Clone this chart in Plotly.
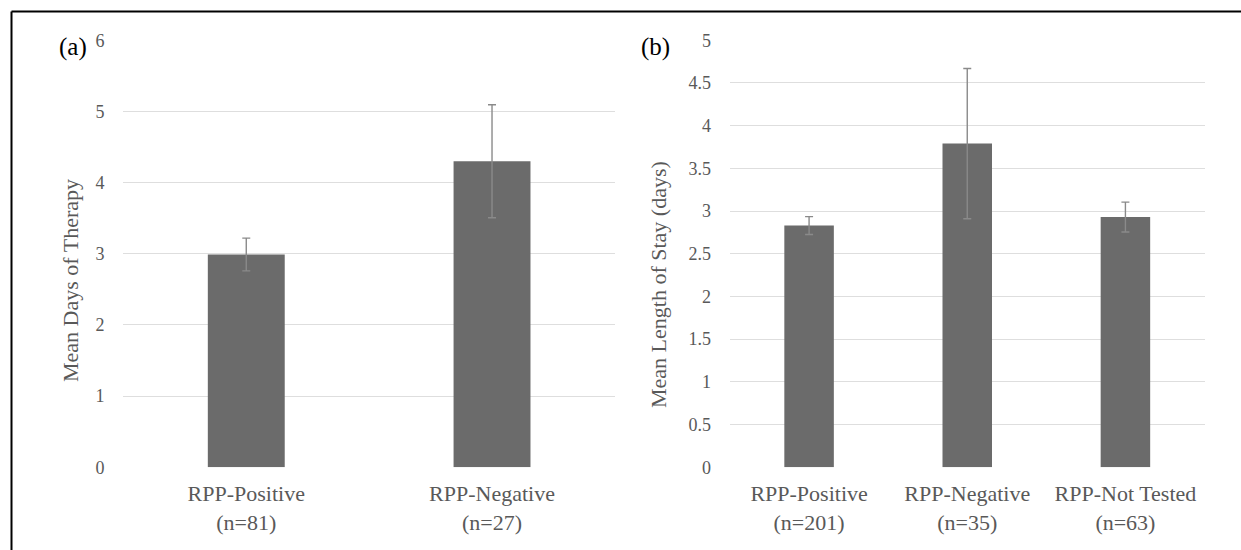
import plotly.graph_objects as go

# ---- data ----
cats_a = ["RPP-Positive", "RPP-Negative"]
n_a = [81, 27]
mean_a = [2.99, 4.30]
err_a = [0.23, 0.795]

cats_b = ["RPP-Positive", "RPP-Negative", "RPP-Not Tested"]
n_b = [201, 35, 63]
mean_b = [2.83, 3.79, 2.93]
err_b = [0.105, 0.88, 0.175]

yticks_a = [0, 1, 2, 3, 4, 5, 6]
yticks_b = [0, 0.5, 1, 1.5, 2, 2.5, 3, 3.5, 4, 4.5, 5]

W, H = 1241, 550
FONT = "Liberation Serif"
GRAY = "#595959"
BAR = "#6b6b6b"
ERR = "#8a8a8a"

fig = go.Figure()
fig.add_trace(go.Bar(
    x=cats_a, y=mean_a, xaxis="x", yaxis="y",
    marker=dict(color=BAR, line=dict(width=0)),
    error_y=dict(type="data", array=err_a, visible=True, color=ERR, thickness=1.4, width=4),
    showlegend=False,
))
fig.add_trace(go.Bar(
    x=cats_b, y=mean_b, xaxis="x2", yaxis="y2",
    marker=dict(color=BAR, line=dict(width=0)),
    error_y=dict(type="data", array=err_b, visible=True, color=ERR, thickness=1.4, width=4),
    showlegend=False,
))

y0 = (H - 467.2) / H
y1 = (H - 40.3) / H

xcommon = dict(showgrid=False, zeroline=False, showline=False, ticks="", automargin=False,
               tickfont=dict(family=FONT, size=22, color=GRAY), ticklabelstandoff=11)
ycommon = dict(showgrid=True, gridcolor="#dedede", gridwidth=1.3, zeroline=False,
               showline=False, ticks="", automargin=False,
               tickfont=dict(family=FONT, size=18, color=GRAY), ticklabelstandoff=18)

fig.update_layout(
    width=W, height=H, autosize=False,
    margin=dict(l=0, r=0, t=0, b=0, pad=0, autoexpand=False),
    paper_bgcolor="white", plot_bgcolor="white",
    showlegend=False,
    bargap=0.687,
    xaxis=dict(domain=[123.4 / W, 614.9 / W], anchor="y",
               tickmode="array", tickvals=cats_a,
               ticktext=[f"{c}<br>(n={n})" for c, n in zip(cats_a, n_a)], **xcommon),
    yaxis=dict(domain=[y0, y1], anchor="x", range=[0, 6],
               tickmode="array", tickvals=yticks_a,
               ticktext=[f"{v:g}" for v in yticks_a], **ycommon),
    xaxis2=dict(domain=[730 / W, 1204.5 / W], anchor="y2",
                tickmode="array", tickvals=cats_b,
                ticktext=[f"{c}<br>(n={n})" for c, n in zip(cats_b, n_b)], **xcommon),
    yaxis2=dict(domain=[y0, y1], anchor="x2", range=[0, 5],
                tickmode="array", tickvals=yticks_b,
                ticktext=[f"{v:g}" for v in yticks_b], **ycommon),
)

# axis titles
fig.add_annotation(text="Mean Days of Therapy", x=70 / W, y=(H - 281) / H,
                   xref="paper", yref="paper", textangle=-90, showarrow=False,
                   font=dict(family=FONT, size=22, color=GRAY), xanchor="center", yanchor="middle")
fig.add_annotation(text="Mean Length of Stay (days)", x=658 / W, y=(H - 285) / H,
                   xref="paper", yref="paper", textangle=-90, showarrow=False,
                   font=dict(family=FONT, size=22, color=GRAY), xanchor="center", yanchor="middle")
# panel labels
fig.add_annotation(text="(a)", x=73 / W, y=(H - 47) / H, xref="paper", yref="paper",
                   showarrow=False, font=dict(family=FONT, size=25, color="black"),
                   xanchor="center", yanchor="middle")
fig.add_annotation(text="(b)", x=655 / W, y=(H - 47) / H, xref="paper", yref="paper",
                   showarrow=False, font=dict(family=FONT, size=25, color="black"),
                   xanchor="center", yanchor="middle")

# frame lines (top and left)
fy = 1 - 11.5 / H
fx = 11.5 / W
fig.add_shape(type="line", xref="paper", yref="paper", x0=fx, x1=1, y0=fy, y1=fy,
              line=dict(color="black", width=2))
fig.add_shape(type="line", xref="paper", yref="paper", x0=fx, x1=fx, y0=0, y1=fy,
              line=dict(color="black", width=2))

fig.write_html("out.html", config={"displayModeBar": False},
               post_script="document.body.style.margin='0';document.body.style.overflow='hidden';")
